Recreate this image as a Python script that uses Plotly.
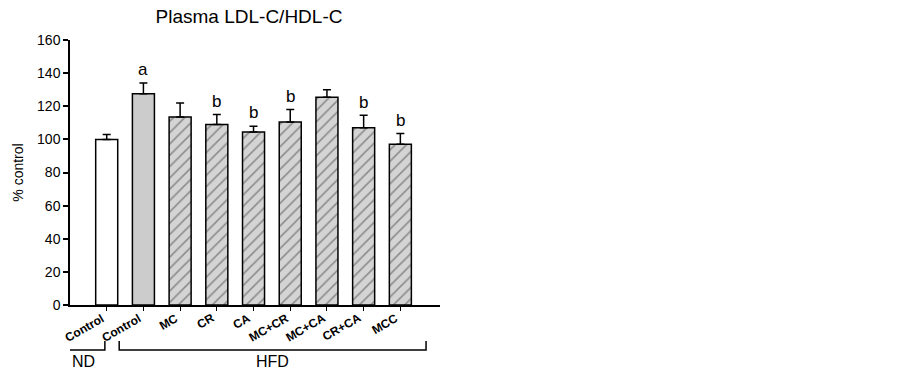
import plotly.graph_objects as go

categories = ["Control", "Control", "MC", "CR", "CA", "MC+CR", "MC+CA", "CR+CA", "MCC"]
values = [100, 127.5, 113.5, 109, 104.5, 110.5, 125.5, 107, 97]
errors = [3, 6.5, 8.5, 6, 3.5, 7.5, 4.5, 7.5, 6.5]
letters = ["", "a", "", "b", "b", "b", "", "b", "b"]
groups = [("ND", -1.22, -0.05), ("HFD", 0.34, 8.70)]
y_ticks = [0, 20, 40, 60, 80, 100, 120, 140, 160]

xpos = list(range(len(categories)))
colors = ["white", "#cccccc"] + ["#d4d4d4"] * 7
shapes_pat = ["", ""] + ["/"] * 7
FONT = "Liberation Sans, Arial"

fig = go.Figure()
fig.add_trace(go.Bar(
    x=xpos, y=values, width=0.6,
    marker=dict(color=colors, line=dict(color="black", width=1.5),
                pattern=dict(shape=shapes_pat, fgcolor="black", bgcolor=colors,
                             size=8, solidity=0.2, fillmode="overlay")),
    error_y=dict(type="data", array=errors, arrayminus=[0]*len(errors),
                 symmetric=False, color="black", thickness=1.5, width=4),
    showlegend=False,
))

annotations = []
for i, (v, e, l) in enumerate(zip(values, errors, letters)):
    if l:
        annotations.append(dict(x=i, y=v + e + 8, text=l, showarrow=False,
                                xref="x", yref="y", yanchor="middle",
                                font=dict(size=17, color="black", family=FONT)))

# rotated category labels, right end anchored just right of each category
for i, c in enumerate(categories):
    annotations.append(dict(x=i + 0.08, y=-0.012, xref="x", yref="paper",
                            text=f"<b>{c}</b>", showarrow=False, textangle=-30,
                            xanchor="right", yanchor="top",
                            font=dict(size=12, color="black", family=FONT)))

shapes = []
for name, x0, x1 in groups:
    yb, yt = -0.170, -0.136
    shapes.append(dict(type="path", xref="x", yref="paper",
                       path=f"M {x0},{yt} L {x0},{yb} L {x1},{yb} L {x1},{yt}",
                       line=dict(color="black", width=1.5)))
    annotations.append(dict(x=(x0 + x1) / 2, y=-0.215, xref="x", yref="paper",
                            text=name, showarrow=False, yanchor="middle",
                            font=dict(size=16, color="black", family=FONT)))

fig.update_layout(
    width=903, height=372,
    margin=dict(l=70, r=463, t=40, b=67),
    plot_bgcolor="white", paper_bgcolor="white",
    title=dict(text="Plasma LDL-C/HDL-C", x=249/903, xanchor="center", y=1-16/372, yanchor="middle",
               font=dict(size=19, color="black", family=FONT), automargin=False),
    xaxis=dict(range=[-1.0, 9.08], tickmode="array", tickvals=xpos,
               showticklabels=False,
               showline=True, linecolor="black", linewidth=1.5,
               ticks="outside", ticklen=4, tickwidth=1, tickcolor="black",
               showgrid=False, zeroline=False, automargin=False),
    yaxis=dict(range=[0, 160], tickmode="array", tickvals=y_ticks,
               showline=True, linecolor="black", linewidth=1.5, ticks="outside",
               ticklen=5, tickwidth=1.5, tickcolor="black",
               tickfont=dict(size=14, color="black", family=FONT),
               title=dict(text="% control", standoff=10,
                          font=dict(size=14, color="black", family=FONT)),
               showgrid=False, zeroline=False, automargin=False),
    annotations=annotations,
    shapes=shapes,
)

fig.write_html("out.html", config={"displayModeBar": False},
               post_script="document.body.style.margin='0';")
